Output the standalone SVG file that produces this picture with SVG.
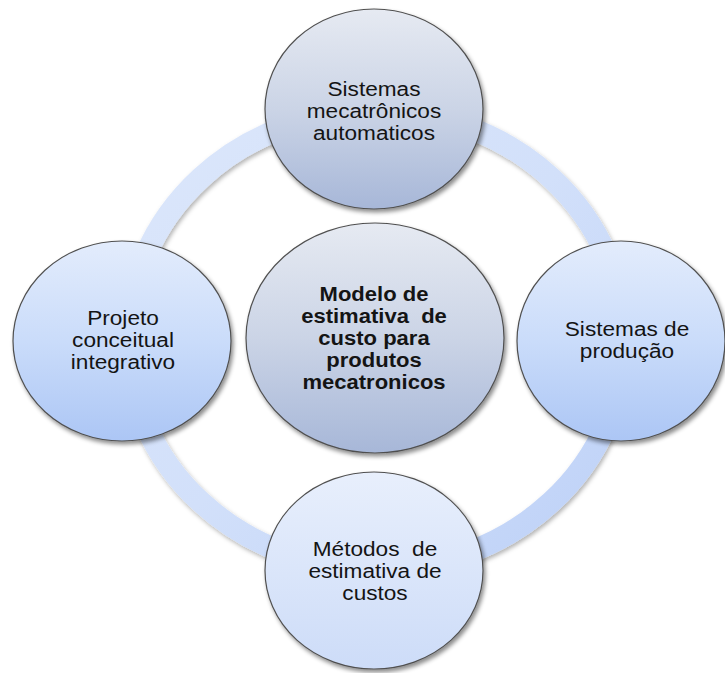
<svg xmlns="http://www.w3.org/2000/svg" width="725" height="673" viewBox="0 0 725 673">
  <defs>
    <linearGradient id="ringGrad" x1="0" y1="0" x2="1" y2="1">
      <stop offset="0" stop-color="#dce7fb"/>
      <stop offset="0.5" stop-color="#d2e0fa"/>
      <stop offset="1" stop-color="#bcd0f7"/>
    </linearGradient>
    <linearGradient id="grayGrad" x1="0" y1="0" x2="0" y2="1">
      <stop offset="0" stop-color="#e6eaf2"/>
      <stop offset="0.5" stop-color="#cbd4e6"/>
      <stop offset="1" stop-color="#a7b7d8"/>
    </linearGradient>
    <linearGradient id="blueGrad" x1="0" y1="0" x2="0" y2="1">
      <stop offset="0" stop-color="#e3ecfc"/>
      <stop offset="0.5" stop-color="#cadcfa"/>
      <stop offset="1" stop-color="#acc6f5"/>
    </linearGradient>
    <linearGradient id="lightGrad" x1="0" y1="0" x2="0" y2="1">
      <stop offset="0" stop-color="#e8effc"/>
      <stop offset="1" stop-color="#cddcf8"/>
    </linearGradient>
    <filter id="shadow" x="-10%" y="-10%" width="125%" height="125%">
      <feDropShadow dx="2" dy="3" stdDeviation="2" flood-color="#000" flood-opacity="0.45"/>
    </filter>
    <filter id="ringShadow" x="-10%" y="-10%" width="125%" height="125%">
      <feDropShadow dx="1.5" dy="2.5" stdDeviation="2" flood-color="#000" flood-opacity="0.3"/>
    </filter>
  </defs>
  <style>
    .node { stroke: #505050; stroke-width: 1.2; filter: url(#shadow); }
    .gray { fill: url(#grayGrad); }
    .blue { fill: url(#blueGrad); }
    .light { fill: url(#lightGrad); }
    .lbl { font-family: "Liberation Sans", Arial, sans-serif; font-size: 19.5px; fill: #141414; text-anchor: middle; }
    .bold { font-weight: bold; }
    .ring { fill: none; stroke: url(#ringGrad); stroke-width: 22; filter: url(#ringShadow); }
  </style>
  <rect width="725" height="673" fill="#ffffff"/>

  <g id="connectors">
    <ellipse class="ring" cx="376" cy="340" rx="248" ry="229"/>
  </g>

  <g id="node-top">
    <ellipse class="node gray" cx="374" cy="109" rx="109" ry="100"/>
    <text class="lbl" transform="translate(374 0) scale(1.16 1)" y="96"><tspan x="0">Sistemas</tspan><tspan x="0" dy="22">mecatrônicos</tspan><tspan x="0" dy="22">automaticos</tspan></text>
  </g>

  <g id="node-left">
    <ellipse class="node blue" cx="122" cy="341" rx="109" ry="100"/>
    <text class="lbl" transform="translate(123 0) scale(1.16 1)" y="325"><tspan x="0">Projeto</tspan><tspan x="0" dy="22">conceitual</tspan><tspan x="0" dy="22">integrativo</tspan></text>
  </g>

  <g id="node-right">
    <ellipse class="node blue" cx="621" cy="341" rx="104" ry="100"/>
    <text class="lbl" transform="translate(627 0) scale(1.16 1)" y="336"><tspan x="0">Sistemas de</tspan><tspan x="0" dy="22">produção</tspan></text>
  </g>

  <g id="node-bottom">
    <ellipse class="node light" cx="374" cy="570.5" rx="109" ry="98.5"/>
    <text class="lbl" transform="translate(375 0) scale(1.16 1)" y="556" xml:space="preserve"><tspan x="0">Métodos  de</tspan><tspan x="0" dy="22">estimativa de</tspan><tspan x="0" dy="22">custos</tspan></text>
  </g>

  <g id="node-center">
    <ellipse class="node gray" cx="375" cy="338" rx="129" ry="115"/>
    <text class="lbl bold" transform="translate(374 0) scale(1.13 1)" y="301" xml:space="preserve"><tspan x="0">Modelo de</tspan><tspan x="0" dy="22">estimativa  de</tspan><tspan x="0" dy="22">custo para</tspan><tspan x="0" dy="22">produtos</tspan><tspan x="0" dy="22">mecatronicos</tspan></text>
  </g>
</svg>
